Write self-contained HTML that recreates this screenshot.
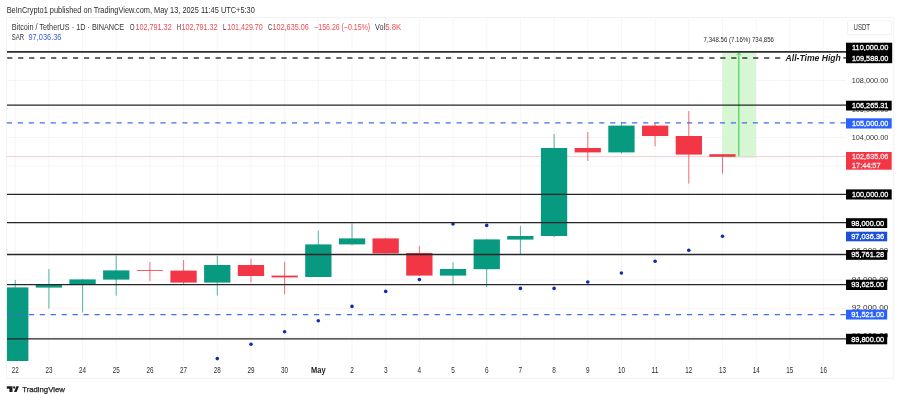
<!DOCTYPE html>
<html lang="en"><head><meta charset="utf-8"><title>BTCUSDT chart</title>
<style>html,body{margin:0;padding:0;background:#fff;}body{width:900px;height:400px;overflow:hidden;}svg{display:block;}text{font-family:"Liberation Sans", sans-serif;}</style>
</head><body>
<svg width="900" height="400" viewBox="0 0 900 400">
<rect x="0" y="0" width="900" height="400" fill="#ffffff"/>
<rect x="6.5" y="17.7" width="887.3" height="360.6" fill="none" stroke="#f1f1f1" stroke-width="1"/>
<g stroke="#f5f5f5" stroke-width="1">
<line x1="15.2" y1="17.7" x2="15.2" y2="361.0"/>
<line x1="48.9" y1="17.7" x2="48.9" y2="361.0"/>
<line x1="82.6" y1="17.7" x2="82.6" y2="361.0"/>
<line x1="116.2" y1="17.7" x2="116.2" y2="361.0"/>
<line x1="149.9" y1="17.7" x2="149.9" y2="361.0"/>
<line x1="183.6" y1="17.7" x2="183.6" y2="361.0"/>
<line x1="217.3" y1="17.7" x2="217.3" y2="361.0"/>
<line x1="251.0" y1="17.7" x2="251.0" y2="361.0"/>
<line x1="284.6" y1="17.7" x2="284.6" y2="361.0"/>
<line x1="318.3" y1="17.7" x2="318.3" y2="361.0"/>
<line x1="352.0" y1="17.7" x2="352.0" y2="361.0"/>
<line x1="385.7" y1="17.7" x2="385.7" y2="361.0"/>
<line x1="419.4" y1="17.7" x2="419.4" y2="361.0"/>
<line x1="453.0" y1="17.7" x2="453.0" y2="361.0"/>
<line x1="486.7" y1="17.7" x2="486.7" y2="361.0"/>
<line x1="520.4" y1="17.7" x2="520.4" y2="361.0"/>
<line x1="554.1" y1="17.7" x2="554.1" y2="361.0"/>
<line x1="587.8" y1="17.7" x2="587.8" y2="361.0"/>
<line x1="621.4" y1="17.7" x2="621.4" y2="361.0"/>
<line x1="655.1" y1="17.7" x2="655.1" y2="361.0"/>
<line x1="688.8" y1="17.7" x2="688.8" y2="361.0"/>
<line x1="722.5" y1="17.7" x2="722.5" y2="361.0"/>
<line x1="756.2" y1="17.7" x2="756.2" y2="361.0"/>
<line x1="789.8" y1="17.7" x2="789.8" y2="361.0"/>
<line x1="823.5" y1="17.7" x2="823.5" y2="361.0"/>
<line x1="6.5" y1="337.0" x2="846.0" y2="337.0"/>
<line x1="6.5" y1="308.5" x2="846.0" y2="308.5"/>
<line x1="6.5" y1="280.0" x2="846.0" y2="280.0"/>
<line x1="6.5" y1="251.5" x2="846.0" y2="251.5"/>
<line x1="6.5" y1="223.0" x2="846.0" y2="223.0"/>
<line x1="6.5" y1="194.5" x2="846.0" y2="194.5"/>
<line x1="6.5" y1="166.0" x2="846.0" y2="166.0"/>
<line x1="6.5" y1="137.5" x2="846.0" y2="137.5"/>
<line x1="6.5" y1="109.0" x2="846.0" y2="109.0"/>
<line x1="6.5" y1="80.5" x2="846.0" y2="80.5"/>
<line x1="6.5" y1="52.0" x2="846.0" y2="52.0"/>
</g>
<rect x="722.3" y="52" width="33.7" height="105" fill="#d6f6d4"/>
<line x1="738.8" y1="53" x2="738.8" y2="157" stroke="#55d65a" stroke-width="1.3"/>
<path d="M736.6 55.2 L738.8 52.6 L741 55.2" fill="none" stroke="#55d65a" stroke-width="1"/>
<line x1="722.3" y1="156.8" x2="756" y2="156.8" stroke="#7fe083" stroke-width="1"/>
<line x1="6.5" y1="156.5" x2="846.0" y2="156.5" stroke="#f9d0d4" stroke-width="1"/>
<g>
<line x1="15.2" y1="280.0" x2="15.2" y2="361.0" stroke="#089981" stroke-width="0.9" stroke-opacity="0.8"/>
<rect x="7.0" y="287.4" width="21.4" height="73.6" fill="#089981"/>
<line x1="48.9" y1="269.0" x2="48.9" y2="308.6" stroke="#089981" stroke-width="0.9" stroke-opacity="0.8"/>
<rect x="35.7" y="284.0" width="26.3" height="3.6" fill="#089981"/>
<line x1="82.6" y1="279.0" x2="82.6" y2="312.4" stroke="#089981" stroke-width="0.9" stroke-opacity="0.8"/>
<rect x="69.4" y="279.4" width="26.3" height="5.2" fill="#089981"/>
<line x1="116.2" y1="255.6" x2="116.2" y2="295.6" stroke="#089981" stroke-width="0.9" stroke-opacity="0.8"/>
<rect x="103.1" y="270.4" width="26.3" height="9.2" fill="#089981"/>
<line x1="149.9" y1="262.0" x2="149.9" y2="281.0" stroke="#f23645" stroke-width="0.9" stroke-opacity="0.8"/>
<rect x="136.8" y="270.1" width="26.3" height="0.8" fill="#f23645"/>
<line x1="183.6" y1="260.0" x2="183.6" y2="284.0" stroke="#f23645" stroke-width="0.9" stroke-opacity="0.8"/>
<rect x="170.4" y="270.6" width="26.3" height="12.0" fill="#f23645"/>
<line x1="217.3" y1="256.0" x2="217.3" y2="295.6" stroke="#089981" stroke-width="0.9" stroke-opacity="0.8"/>
<rect x="204.1" y="265.0" width="26.3" height="17.6" fill="#089981"/>
<line x1="251.0" y1="258.6" x2="251.0" y2="282.4" stroke="#f23645" stroke-width="0.9" stroke-opacity="0.8"/>
<rect x="237.8" y="265.0" width="26.3" height="11.0" fill="#f23645"/>
<line x1="284.6" y1="262.0" x2="284.6" y2="294.4" stroke="#f23645" stroke-width="0.9" stroke-opacity="0.8"/>
<rect x="271.5" y="275.6" width="26.3" height="1.8" fill="#f23645"/>
<line x1="318.3" y1="230.6" x2="318.3" y2="277.0" stroke="#089981" stroke-width="0.9" stroke-opacity="0.8"/>
<rect x="305.2" y="244.4" width="26.3" height="32.6" fill="#089981"/>
<line x1="352.0" y1="223.4" x2="352.0" y2="245.2" stroke="#089981" stroke-width="0.9" stroke-opacity="0.8"/>
<rect x="338.9" y="238.4" width="26.3" height="6.0" fill="#089981"/>
<line x1="385.7" y1="238.0" x2="385.7" y2="253.6" stroke="#f23645" stroke-width="0.9" stroke-opacity="0.8"/>
<rect x="372.5" y="238.4" width="26.3" height="15.0" fill="#f23645"/>
<line x1="419.4" y1="246.0" x2="419.4" y2="276.2" stroke="#f23645" stroke-width="0.9" stroke-opacity="0.8"/>
<rect x="406.2" y="253.0" width="26.3" height="22.6" fill="#f23645"/>
<line x1="453.0" y1="262.4" x2="453.0" y2="285.0" stroke="#089981" stroke-width="0.9" stroke-opacity="0.8"/>
<rect x="439.9" y="269.0" width="26.3" height="6.6" fill="#089981"/>
<line x1="486.7" y1="239.0" x2="486.7" y2="287.0" stroke="#089981" stroke-width="0.9" stroke-opacity="0.8"/>
<rect x="473.6" y="239.4" width="26.3" height="29.8" fill="#089981"/>
<line x1="520.4" y1="226.0" x2="520.4" y2="254.0" stroke="#089981" stroke-width="0.9" stroke-opacity="0.8"/>
<rect x="507.2" y="236.0" width="26.3" height="3.6" fill="#089981"/>
<line x1="554.1" y1="134.0" x2="554.1" y2="237.0" stroke="#089981" stroke-width="0.9" stroke-opacity="0.8"/>
<rect x="540.9" y="148.0" width="26.3" height="88.0" fill="#089981"/>
<line x1="587.8" y1="132.0" x2="587.8" y2="161.0" stroke="#f23645" stroke-width="0.9" stroke-opacity="0.8"/>
<rect x="574.6" y="148.0" width="26.3" height="4.4" fill="#f23645"/>
<line x1="621.4" y1="122.0" x2="621.4" y2="153.6" stroke="#089981" stroke-width="0.9" stroke-opacity="0.8"/>
<rect x="608.3" y="125.6" width="26.3" height="26.8" fill="#089981"/>
<line x1="655.1" y1="123.0" x2="655.1" y2="146.4" stroke="#f23645" stroke-width="0.9" stroke-opacity="0.8"/>
<rect x="642.0" y="125.6" width="26.3" height="10.4" fill="#f23645"/>
<line x1="688.8" y1="111.0" x2="688.8" y2="183.6" stroke="#f23645" stroke-width="0.9" stroke-opacity="0.8"/>
<rect x="675.7" y="136.0" width="26.3" height="18.6" fill="#f23645"/>
<line x1="722.5" y1="154.0" x2="722.5" y2="173.6" stroke="#f23645" stroke-width="0.9" stroke-opacity="0.8"/>
<rect x="709.3" y="154.2" width="26.3" height="2.6" fill="#f23645"/>
</g>
<g fill="#0b2fb0">
<circle cx="217.3" cy="358.6" r="1.8"/>
<circle cx="251.0" cy="344.2" r="1.8"/>
<circle cx="284.6" cy="331.8" r="1.8"/>
<circle cx="318.3" cy="320.8" r="1.8"/>
<circle cx="352.0" cy="306.4" r="1.8"/>
<circle cx="385.7" cy="291.4" r="1.8"/>
<circle cx="419.4" cy="279.6" r="1.8"/>
<circle cx="453.0" cy="224.0" r="1.8"/>
<circle cx="486.7" cy="225.4" r="1.8"/>
<circle cx="520.4" cy="288.4" r="1.8"/>
<circle cx="554.1" cy="288.4" r="1.8"/>
<circle cx="587.8" cy="282.0" r="1.8"/>
<circle cx="621.4" cy="273.0" r="1.8"/>
<circle cx="655.1" cy="261.2" r="1.8"/>
<circle cx="688.8" cy="250.2" r="1.8"/>
<circle cx="722.5" cy="236.2" r="1.8"/>
</g>
<line x1="7.0" y1="51.9" x2="846.0" y2="51.9" stroke="#2e2e2e" stroke-width="1.60"/>
<line x1="7.2" y1="57.9" x2="782.0" y2="57.9" stroke="#383838" stroke-width="1.45" stroke-dasharray="5.2 5.77"/>
<line x1="843.3" y1="57.9" x2="846.0" y2="57.9" stroke="#383838" stroke-width="1.45"/>
<line x1="7.0" y1="105.2" x2="846.0" y2="105.2" stroke="#262626" stroke-width="1.30"/>
<line x1="6.8" y1="122.9" x2="846.0" y2="122.9" stroke="#456ce8" stroke-width="1.40" stroke-dasharray="5.2 5.77"/>
<line x1="7.0" y1="194.4" x2="846.0" y2="194.4" stroke="#262626" stroke-width="1.30"/>
<line x1="7.0" y1="222.6" x2="846.0" y2="222.6" stroke="#262626" stroke-width="1.40"/>
<line x1="7.0" y1="254.5" x2="846.0" y2="254.5" stroke="#262626" stroke-width="1.30"/>
<line x1="7.0" y1="284.6" x2="846.0" y2="284.6" stroke="#262626" stroke-width="1.30"/>
<line x1="6.8" y1="314.6" x2="846.0" y2="314.6" stroke="#456ce8" stroke-width="1.40" stroke-dasharray="5.2 5.77"/>
<line x1="7.0" y1="338.8" x2="846.0" y2="338.8" stroke="#262626" stroke-width="1.30"/>
<text x="785.6" y="61.0" font-size="9.40" fill="#1a1a1a" textLength="55.2" lengthAdjust="spacingAndGlyphs" font-weight="bold" font-style="italic">All-Time High</text>
<text x="703.6" y="42.2" font-size="6.90" fill="#2a2a2a" textLength="70.4" lengthAdjust="spacingAndGlyphs">7,348.56 (7.16%) 734,856</text>
<text x="851.7" y="83.4" font-size="8.00" fill="#333" textLength="36.6" lengthAdjust="spacingAndGlyphs">108,000.00</text>
<text x="851.7" y="111.7" font-size="8.00" fill="#333" textLength="36.6" lengthAdjust="spacingAndGlyphs">106,000.00</text>
<text x="851.7" y="140.0" font-size="8.00" fill="#333" textLength="36.6" lengthAdjust="spacingAndGlyphs">104,000.00</text>
<text x="851.7" y="168.3" font-size="8.00" fill="#333" textLength="36.6" lengthAdjust="spacingAndGlyphs">102,000.00</text>
<text x="851.7" y="253.2" font-size="8.00" fill="#333" textLength="36.6" lengthAdjust="spacingAndGlyphs">96,000.00</text>
<text x="851.7" y="281.9" font-size="8.00" fill="#333" textLength="36.6" lengthAdjust="spacingAndGlyphs">94,000.00</text>
<text x="851.7" y="310.3" font-size="8.00" fill="#333" textLength="36.6" lengthAdjust="spacingAndGlyphs">92,000.00</text>
<text x="851.7" y="338.1" font-size="8.00" fill="#333" textLength="36.6" lengthAdjust="spacingAndGlyphs">90,000.00</text>
<rect x="846" y="42.7" width="46.2" height="20.5" fill="#000"/>
<text x="852.0" y="50.3" font-size="8.00" fill="#fff" textLength="36.3" lengthAdjust="spacingAndGlyphs" stroke="#fff" stroke-width="0.3">110,000.00</text>
<text x="852.0" y="61.0" font-size="8.00" fill="#fff" textLength="36.3" lengthAdjust="spacingAndGlyphs" stroke="#fff" stroke-width="0.3">109,588.00</text>
<rect x="846" y="100.7" width="45.7" height="9.8" fill="#000"/>
<text x="852.0" y="108.2" font-size="8.00" fill="#fff" textLength="36.3" lengthAdjust="spacingAndGlyphs" stroke="#fff" stroke-width="0.3">106,265.31</text>
<rect x="846" y="118.3" width="45.7" height="10.2" fill="#2962ff"/>
<text x="852.0" y="125.8" font-size="8.00" fill="#fff" textLength="36.3" lengthAdjust="spacingAndGlyphs" stroke="#fff" stroke-width="0.3">105,000.00</text>
<rect x="846" y="152.0" width="45.7" height="17.7" fill="#f23645"/>
<text x="852.0" y="159.3" font-size="8.00" fill="#ffe3e6" textLength="36.3" lengthAdjust="spacingAndGlyphs" stroke="#ffe3e6" stroke-width="0.3">102,635.06</text>
<text x="852.0" y="167.8" font-size="8.00" fill="#ffe3e6" textLength="28.5" lengthAdjust="spacingAndGlyphs" stroke="#ffe3e6" stroke-width="0.3">17:44:57</text>
<rect x="846" y="189.4" width="45.7" height="10.1" fill="#000"/>
<text x="852.0" y="197.1" font-size="8.00" fill="#fff" textLength="36.3" lengthAdjust="spacingAndGlyphs" stroke="#fff" stroke-width="0.3">100,000.00</text>
<rect x="846" y="218.2" width="41.2" height="9.8" fill="#000"/>
<text x="851.2" y="225.5" font-size="8.00" fill="#fff" textLength="33.0" lengthAdjust="spacingAndGlyphs" stroke="#fff" stroke-width="0.3">98,000.00</text>
<rect x="846" y="231.7" width="41.2" height="9.6" fill="#1c4fd8"/>
<text x="851.2" y="238.9" font-size="8.00" fill="#fff" textLength="33.0" lengthAdjust="spacingAndGlyphs" stroke="#fff" stroke-width="0.3">97,036.36</text>
<rect x="846" y="250.0" width="41.2" height="9.8" fill="#000"/>
<text x="851.2" y="257.3" font-size="8.00" fill="#fff" textLength="33.0" lengthAdjust="spacingAndGlyphs" stroke="#fff" stroke-width="0.3">95,761.28</text>
<rect x="846" y="279.7" width="41.2" height="10.3" fill="#000"/>
<text x="851.2" y="287.3" font-size="8.00" fill="#fff" textLength="33.0" lengthAdjust="spacingAndGlyphs" stroke="#fff" stroke-width="0.3">93,625.00</text>
<rect x="846" y="309.7" width="41.2" height="9.8" fill="#2962ff"/>
<text x="851.2" y="317.3" font-size="8.00" fill="#fff" textLength="33.0" lengthAdjust="spacingAndGlyphs" stroke="#fff" stroke-width="0.3">91,521.00</text>
<rect x="846" y="333.8" width="41.2" height="10.5" fill="#000"/>
<text x="851.2" y="341.5" font-size="8.00" fill="#fff" textLength="33.0" lengthAdjust="spacingAndGlyphs" stroke="#fff" stroke-width="0.3">89,800.00</text>
<rect x="847.5" y="20.8" width="44.2" height="13.9" rx="1.5" fill="#fff" stroke="#f1f1f1" stroke-width="1"/>
<text x="853.5" y="30.1" font-size="8.20" fill="#3a3a3a" textLength="16.5" lengthAdjust="spacingAndGlyphs">USDT</text>
<text x="6.7" y="12.9" font-size="8.20" fill="#2a2a2a" textLength="248.1" lengthAdjust="spacingAndGlyphs">BeInCrypto1 published on TradingView.com, May 13, 2025 11:45 UTC+5:30</text>
<text x="11.7" y="29.8" font-size="8.50" fill="#333" textLength="112.5" lengthAdjust="spacingAndGlyphs">Bitcoin / TetherUS · 1D · BINANCE</text>
<text x="129.7" y="29.8" font-size="8.50" fill="#333" textLength="4.8" lengthAdjust="spacingAndGlyphs">O</text>
<text x="135.4" y="29.8" font-size="8.50" fill="#ee4956" textLength="36.3" lengthAdjust="spacingAndGlyphs">102,791.32</text>
<text x="176.7" y="29.8" font-size="8.50" fill="#333" textLength="4.3" lengthAdjust="spacingAndGlyphs">H</text>
<text x="181.5" y="29.8" font-size="8.50" fill="#ee4956" textLength="36.0" lengthAdjust="spacingAndGlyphs">102,791.32</text>
<text x="223.0" y="29.8" font-size="8.50" fill="#333" textLength="3.4" lengthAdjust="spacingAndGlyphs">L</text>
<text x="227.2" y="29.8" font-size="8.50" fill="#ee4956" textLength="35.5" lengthAdjust="spacingAndGlyphs">101,429.70</text>
<text x="268.0" y="29.8" font-size="8.50" fill="#333" textLength="4.2" lengthAdjust="spacingAndGlyphs">C</text>
<text x="272.5" y="29.8" font-size="8.50" fill="#ee4956" textLength="36.3" lengthAdjust="spacingAndGlyphs">102,635.06</text>
<text x="314.2" y="29.8" font-size="8.50" fill="#ee4956" textLength="56.0" lengthAdjust="spacingAndGlyphs">−156.26 (−0.15%)</text>
<text x="375.0" y="29.8" font-size="8.50" fill="#333" textLength="10.0" lengthAdjust="spacingAndGlyphs">Vol</text>
<text x="385.3" y="29.8" font-size="8.50" fill="#ee4956" textLength="15.9" lengthAdjust="spacingAndGlyphs">5.8K</text>
<text x="11.7" y="39.9" font-size="8.50" fill="#333" textLength="12.3" lengthAdjust="spacingAndGlyphs">SAR</text>
<text x="28.5" y="39.9" font-size="8.50" fill="#3a5fd0" textLength="33.0" lengthAdjust="spacingAndGlyphs">97,036.36</text>
<text x="15.2" y="372.8" font-size="8.40" fill="#2a2a2a" textLength="7.0" lengthAdjust="spacingAndGlyphs" text-anchor="middle">22</text>
<text x="48.9" y="372.8" font-size="8.40" fill="#2a2a2a" textLength="7.0" lengthAdjust="spacingAndGlyphs" text-anchor="middle">23</text>
<text x="82.6" y="372.8" font-size="8.40" fill="#2a2a2a" textLength="7.0" lengthAdjust="spacingAndGlyphs" text-anchor="middle">24</text>
<text x="116.2" y="372.8" font-size="8.40" fill="#2a2a2a" textLength="7.0" lengthAdjust="spacingAndGlyphs" text-anchor="middle">25</text>
<text x="149.9" y="372.8" font-size="8.40" fill="#2a2a2a" textLength="7.0" lengthAdjust="spacingAndGlyphs" text-anchor="middle">26</text>
<text x="183.6" y="372.8" font-size="8.40" fill="#2a2a2a" textLength="7.0" lengthAdjust="spacingAndGlyphs" text-anchor="middle">27</text>
<text x="217.3" y="372.8" font-size="8.40" fill="#2a2a2a" textLength="7.0" lengthAdjust="spacingAndGlyphs" text-anchor="middle">28</text>
<text x="251.0" y="372.8" font-size="8.40" fill="#2a2a2a" textLength="7.0" lengthAdjust="spacingAndGlyphs" text-anchor="middle">29</text>
<text x="284.6" y="372.8" font-size="8.40" fill="#2a2a2a" textLength="7.0" lengthAdjust="spacingAndGlyphs" text-anchor="middle">30</text>
<text x="318.3" y="372.8" font-size="8.40" fill="#222" textLength="14.5" lengthAdjust="spacingAndGlyphs" font-weight="bold" text-anchor="middle">May</text>
<text x="352.0" y="372.8" font-size="8.40" fill="#2a2a2a" textLength="3.6" lengthAdjust="spacingAndGlyphs" text-anchor="middle">2</text>
<text x="385.7" y="372.8" font-size="8.40" fill="#2a2a2a" textLength="3.6" lengthAdjust="spacingAndGlyphs" text-anchor="middle">3</text>
<text x="419.4" y="372.8" font-size="8.40" fill="#2a2a2a" textLength="3.6" lengthAdjust="spacingAndGlyphs" text-anchor="middle">4</text>
<text x="453.0" y="372.8" font-size="8.40" fill="#2a2a2a" textLength="3.6" lengthAdjust="spacingAndGlyphs" text-anchor="middle">5</text>
<text x="486.7" y="372.8" font-size="8.40" fill="#2a2a2a" textLength="3.6" lengthAdjust="spacingAndGlyphs" text-anchor="middle">6</text>
<text x="520.4" y="372.8" font-size="8.40" fill="#2a2a2a" textLength="3.6" lengthAdjust="spacingAndGlyphs" text-anchor="middle">7</text>
<text x="554.1" y="372.8" font-size="8.40" fill="#2a2a2a" textLength="3.6" lengthAdjust="spacingAndGlyphs" text-anchor="middle">8</text>
<text x="587.8" y="372.8" font-size="8.40" fill="#2a2a2a" textLength="3.6" lengthAdjust="spacingAndGlyphs" text-anchor="middle">9</text>
<text x="621.4" y="372.8" font-size="8.40" fill="#2a2a2a" textLength="7.0" lengthAdjust="spacingAndGlyphs" text-anchor="middle">10</text>
<text x="655.1" y="372.8" font-size="8.40" fill="#2a2a2a" textLength="7.0" lengthAdjust="spacingAndGlyphs" text-anchor="middle">11</text>
<text x="688.8" y="372.8" font-size="8.40" fill="#2a2a2a" textLength="7.0" lengthAdjust="spacingAndGlyphs" text-anchor="middle">12</text>
<text x="722.5" y="372.8" font-size="8.40" fill="#2a2a2a" textLength="7.0" lengthAdjust="spacingAndGlyphs" text-anchor="middle">13</text>
<text x="756.2" y="372.8" font-size="8.40" fill="#2a2a2a" textLength="7.0" lengthAdjust="spacingAndGlyphs" text-anchor="middle">14</text>
<text x="789.8" y="372.8" font-size="8.40" fill="#2a2a2a" textLength="7.0" lengthAdjust="spacingAndGlyphs" text-anchor="middle">15</text>
<text x="823.5" y="372.8" font-size="8.40" fill="#2a2a2a" textLength="7.0" lengthAdjust="spacingAndGlyphs" text-anchor="middle">16</text>
<g fill="#1e1e1e">
<path d="M6.8 386.3 H12.5 V391.9 H9.4 V388.7 H6.8 Z"/>
<circle cx="14.2" cy="387.5" r="1.15"/>
<path d="M16.4 386.3 H19.0 L16.6 391.9 H14.0 Z"/>
</g>
<text x="22.2" y="392.2" font-size="8.00" fill="#222" textLength="42.6" lengthAdjust="spacingAndGlyphs" stroke="#222" stroke-width="0.25">TradingView</text>
</svg>
</body></html>
